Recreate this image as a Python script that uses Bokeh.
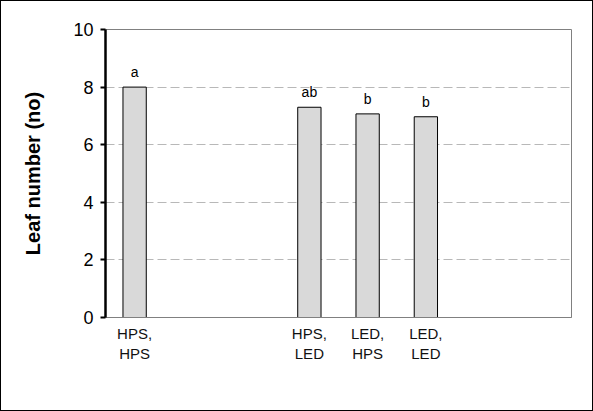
from bokeh.plotting import figure
from bokeh.models import ColumnDataSource, FactorRange, FixedTicker
from bokeh.embed import file_html
from bokeh.resources import INLINE
from bokeh.core.properties import value

# data
factors = ["HPS,\nHPS", " ", "  ", "HPS,\nLED", "LED,\nHPS", "LED,\nLED", "   ", "    "]
bar_cats = ["HPS,\nHPS", "HPS,\nLED", "LED,\nHPS", "LED,\nLED"]
leaf_number = [8.0, 7.3, 7.07, 6.97]
letters = ["a", "ab", "b", "b"]
y_ticks = [0, 2, 4, 6, 8, 10]

src = ColumnDataSource(dict(x=bar_cats, top=leaf_number, lab=letters))

p = figure(x_range=FactorRange(factors=factors, range_padding=0), y_range=(0, 10),
           frame_width=466, frame_height=288,
           min_border_left=104, min_border_top=28, min_border_right=21, min_border_bottom=93,
           output_backend="svg", toolbar_location=None,
           background_fill_color="white", border_fill_color="white",
           styles={"border": "1px solid black"})

p.vbar(x="x", top="top", width=0.4, bottom=0, source=src,
       fill_color="#d9d9d9", line_color="black", line_width=1)
p.text(x="x", y="top", text="lab", source=src, text_align="center", text_baseline="bottom",
       y_offset=-7, text_font=value("Liberation Sans"), text_font_size="14px", text_color="black")

p.outline_line_color="#808080"
p.outline_line_width=1

p.xgrid.grid_line_color=None
p.ygrid.ticker = FixedTicker(ticks=y_ticks[1:-1])
p.ygrid.grid_line_color="#b8b8b8"
p.ygrid.grid_line_dash="9 4"
p.ygrid.grid_line_width=1

p.yaxis.ticker = FixedTicker(ticks=y_ticks)
p.yaxis.axis_line_color="black"
p.yaxis.axis_line_width=2.5
p.yaxis.major_tick_line_color="black"
p.yaxis.major_tick_line_width=2
p.yaxis.major_tick_out=5
p.yaxis.major_tick_in=0
p.yaxis.minor_tick_line_color=None
p.yaxis.major_label_text_font="Liberation Sans"
p.yaxis.major_label_text_font_size="18px"
p.yaxis.major_label_text_color="black"
p.yaxis.major_label_standoff=7
p.yaxis.axis_label="Leaf number (no)"
p.yaxis.axis_label_text_font="Liberation Sans"
p.yaxis.axis_label_text_font_style="bold"
p.yaxis.axis_label_text_font_size="20px"
p.yaxis.axis_label_text_color="black"
p.yaxis.axis_label_standoff=26

p.xaxis.axis_line_color="#808080"
p.xaxis.major_tick_line_color=None
p.xaxis.minor_tick_line_color=None
p.xaxis.major_label_text_font="Liberation Sans"
p.xaxis.major_label_text_font_size="15px"
p.xaxis.major_label_text_color="#111111"
p.xaxis.major_label_standoff=1
p.xaxis.major_label_orientation="horizontal"

open("out.html", "w").write(file_html(p, INLINE))
